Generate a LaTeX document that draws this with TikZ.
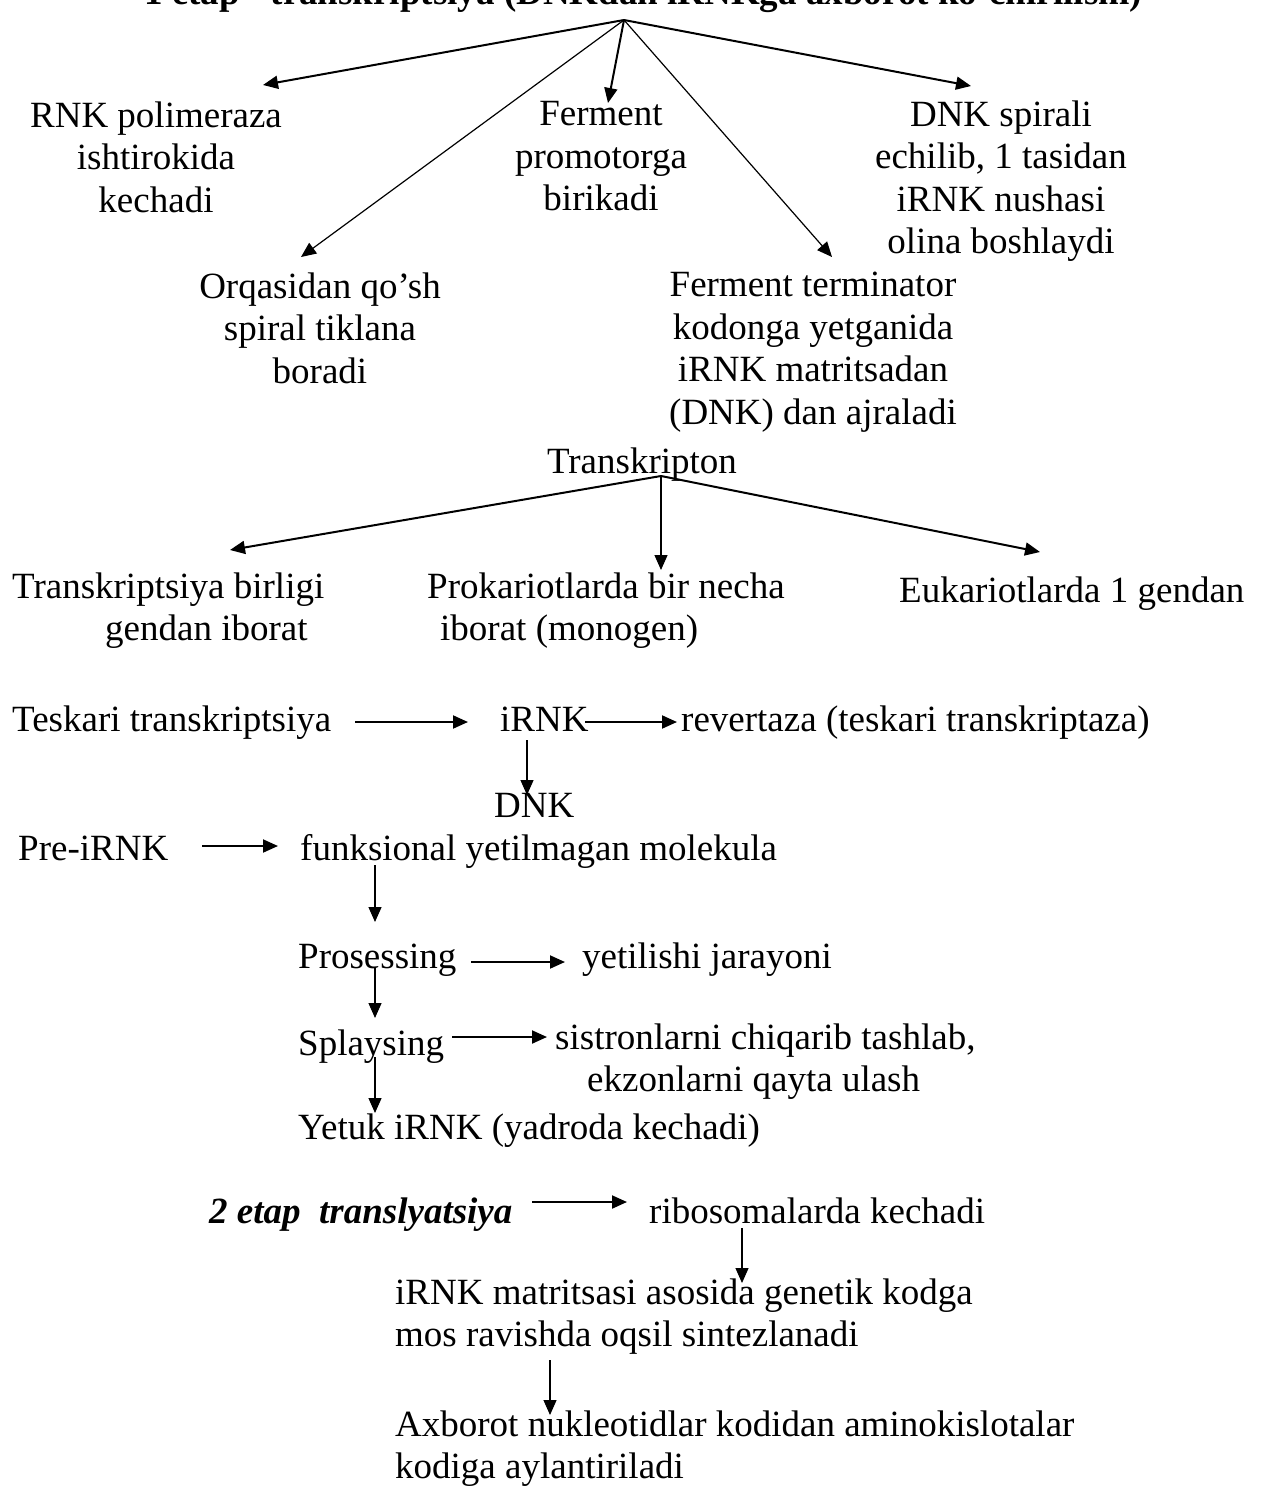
\documentclass[tikz,border=0pt]{standalone}
\usepackage{fontspec}
\setmainfont{Liberation Serif}
\usetikzlibrary{arrows.meta}
\newcommand\bodyfs{\fontsize{37}{42.5}\selectfont}
\begin{document}
\begin{tikzpicture}[x=1pt,y=-1pt,
  lbl/.style={font=\bodyfs, inner sep=0pt, align=center, anchor=north,
    yshift=29.75pt, execute at begin node=\strut},
  lbll/.style={font=\bodyfs, inner sep=0pt, align=left, anchor=north west,
    yshift=29.75pt, execute at begin node=\strut},
  arr/.style={line width=2pt, -{Triangle[length=15pt,width=13pt]}},
  arrthin/.style={line width=1.2pt, -{Triangle[length=15pt,width=13pt]}}]
\useasboundingbox (0,0) rectangle (1269,1491);
\clip (0,0) rectangle (1269,1491);

% heading (stage 1)
\node[lbl, font=\bodyfs\bfseries] (title) at (643,4)
  {1 etap - transkriptsiya (DNKdan iRNKga axborot ko’chirilishi)};

% first fan
\node[lbl] (rnk)  at (156,131) {RNK polimeraza\\ishtirokida\\kechadi};
\node[lbl] (ferm) at (601,131) {Ferment\\promotorga\\birikadi};
\node[lbl] (dnks) at (1001,130) {DNK spirali\\echilib, 1 tasidan\\iRNK nushasi\\olina boshlaydi};
\node[lbl] (orq)  at (320,302) {Orqasidan qo’sh\\spiral tiklana\\boradi};
\node[lbl] (term) at (813,302) {Ferment terminator\\kodonga yetganida\\iRNK matritsadan\\(DNK) dan ajraladi};

\coordinate (apex) at (624,20);
\coordinate (rnkT) at (263,85);
\coordinate (fermT) at (608,103);
\coordinate (orqT) at (301,257);
\coordinate (termT) at (832,257);
\coordinate (dnksT) at (971,86);
\draw[arr] (apex) -- (rnkT);
\draw[arr] (apex) -- (fermT);
\draw[arrthin] (apex) -- (orqT);
\draw[arrthin] (apex) -- (termT);
\draw[arr] (apex) -- (dnksT);

% transcripton fan
\node[lbl] (trp) at (642,473) {Transkripton};
\coordinate (trpS) at (661,476);
\coordinate (tbT) at (230,550);
\coordinate (prokT) at (661,570);
\coordinate (eukT) at (1040,552);
\node[lbll] (tb)   at (12,602) {Transkriptsiya birligi\\\hspace*{93pt}gendan iborat};
\node[lbll] (prok) at (427,602) {Prokariotlarda bir necha\\\hspace*{13pt}iborat (monogen)};
\node[lbll] (euk)  at (899,602) {Eukariotlarda 1 gendan};
\draw[arr] (trpS) -- (tbT);
\draw[arrthin] (trpS) -- (prokT);
\draw[arr] (trpS) -- (eukT);

% reverse transcription
\node[lbll] (tes)  at (12,731) {Teskari transkriptsiya};
\node[lbll] (irnk) at (500,731) {iRNK};
\node[lbll] (rev)  at (681,731) {revertaza (teskari transkriptaza)};
\node[lbll] (dnk)  at (494,817) {DNK};
\coordinate (tesE) at (355,722);
\coordinate (irnkW) at (468,722);
\coordinate (irnkE) at (585,722);
\coordinate (revW) at (677,722);
\coordinate (irnkS) at (527,740);
\coordinate (dnkN) at (527,795);
\draw[arr] (tesE) -- (irnkW);
\draw[arr] (irnkE) -- (revW);
\draw[arrthin] (irnkS) -- (dnkN);

% pre-mRNA processing
\node[lbll] (pre)   at (18,860)  {Pre-iRNK};
\node[lbll] (fun)   at (300,860) {funksional yetilmagan molekula};
\node[lbll] (pros)  at (298,968) {Prosessing};
\node[lbll] (yet)   at (582,968) {yetilishi jarayoni};
\node[lbll] (spl)   at (298,1055) {Splaysing};
\node[lbll] (sis)   at (555,1053) {sistronlarni chiqarib tashlab,\\\hspace*{32pt}ekzonlarni qayta ulash};
\node[lbll] (yetuk) at (298,1139) {Yetuk iRNK (yadroda kechadi)};
\coordinate (preE) at (202,846);
\coordinate (funW) at (278,846);
\coordinate (funS) at (375,865);
\coordinate (prosN) at (375,922);
\coordinate (prosE) at (471,962);
\coordinate (yetW) at (565,962);
\coordinate (prosS) at (375,967);
\coordinate (splN) at (375,1018);
\coordinate (splE) at (452,1037);
\coordinate (sisW) at (547,1037);
\coordinate (splS) at (375,1057);
\coordinate (yetukN) at (375,1113);
\draw[arr] (preE) -- (funW);
\draw[arrthin] (funS) -- (prosN);
\draw[arr] (prosE) -- (yetW);
\draw[arrthin] (prosS) -- (splN);
\draw[arr] (splE) -- (sisW);
\draw[arrthin] (splS) -- (yetukN);

% stage 2: translation
\node[lbll, font=\bodyfs\bfseries\itshape] (et2) at (209,1223) {2 etap\ \ translyatsiya};
\node[lbll] (ribo) at (649,1223) {ribosomalarda kechadi};
\node[lbll] (irm)  at (395,1308) {iRNK matritsasi asosida genetik kodga\\mos ravishda oqsil sintezlanadi};
\node[lbll] (axb)  at (395,1440) {Axborot nukleotidlar kodidan aminokislotalar\\kodiga aylantiriladi};
\coordinate (et2E) at (532,1202);
\coordinate (riboW) at (627,1202);
\coordinate (riboS) at (742,1228);
\coordinate (irmN) at (742,1283);
\coordinate (irmS) at (550,1360);
\coordinate (axbN) at (550,1415);
\draw[arr] (et2E) -- (riboW);
\draw[arrthin] (riboS) -- (irmN);
\draw[arrthin] (irmS) -- (axbN);
\end{tikzpicture}
\end{document}
